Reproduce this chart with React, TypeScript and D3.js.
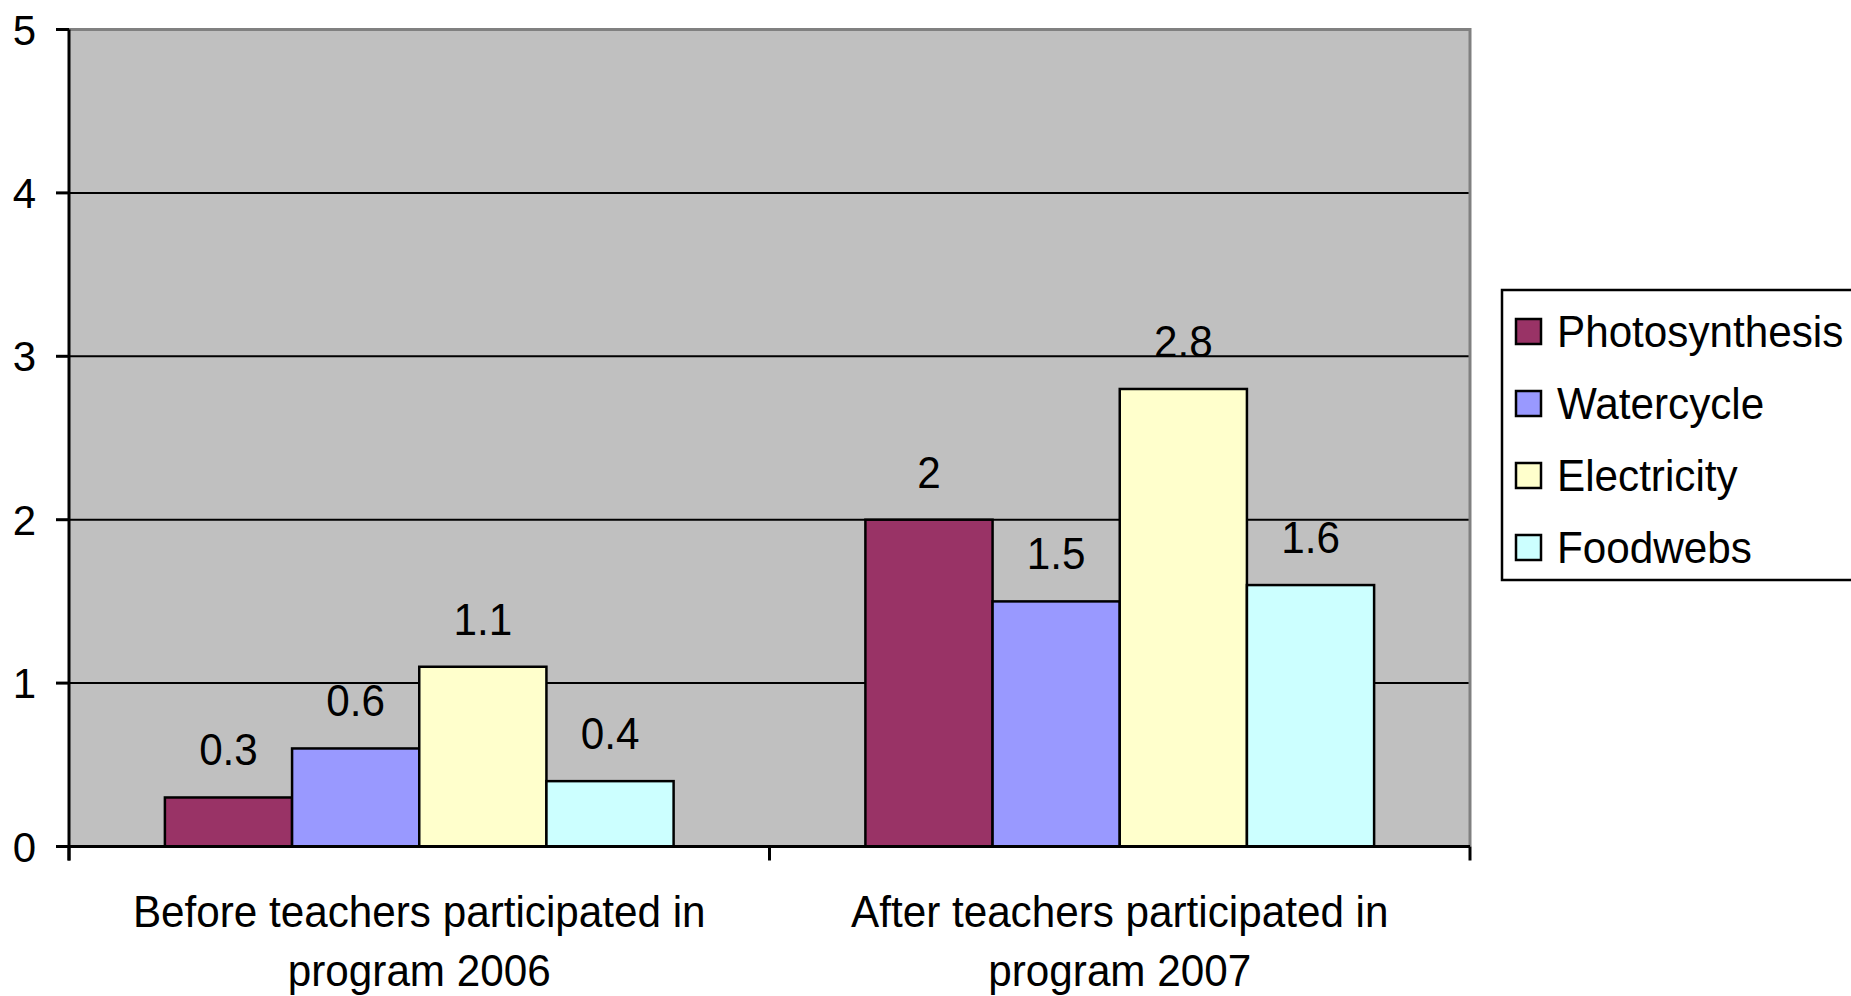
import React from "react";
import * as d3 from "d3";

const categories = [
  ["Before teachers participated in", "program 2006"],
  ["After teachers participated in", "program 2007"],
];
const seriesNames = ["Photosynthesis", "Watercycle", "Electricity", "Foodwebs"];
const seriesColors = ["#993366", "#9999FF", "#FFFFCC", "#CCFFFF"];
// values per series, one entry per category
const photosynthesis = [0.3, 2];
const watercycle = [0.6, 1.5];
const electricity = [1.1, 2.8];
const foodwebs = [0.4, 1.6];
const yTicks = [0, 1, 2, 3, 4, 5];

const seriesValues = [photosynthesis, watercycle, electricity, foodwebs];

const W = 1851;
const H = 996;
const plot = { left: 69, right: 1470, top: 29.5, bottom: 846.5 };
const FONT = "'Liberation Sans', Arial, sans-serif";
const SX = 0.96; // the original text is slightly condensed

export default function App() {
  const x0 = d3
    .scaleBand<number>()
    .domain(categories.map((_, i) => i))
    .range([plot.left, plot.right])
    .padding(0);
  const x1 = d3
    .scaleBand<number>()
    .domain(seriesNames.map((_, i) => i))
    .range([0, x0.bandwidth()])
    .paddingInner(0)
    .paddingOuter(0.754);
  const y = d3.scaleLinear().domain([0, 5]).range([plot.bottom, plot.top]);

  return (
    <svg
      width={W}
      height={H}
      style={{ position: "absolute", left: 0, top: 0, background: "#fff" }}
      fontFamily={FONT}
    >
      <rect
        x={plot.left}
        y={plot.top}
        width={plot.right - plot.left}
        height={plot.bottom - plot.top}
        fill="#C0C0C0"
      />
      {/* gridlines */}
      {yTicks
        .filter((t) => t > 0 && t < 5)
        .map((t) => (
          <line key={t} x1={plot.left} x2={plot.right} y1={y(t)} y2={y(t)} stroke="#000" strokeWidth={2} />
        ))}
      {/* gray top & right border */}
      <path
        d={`M${plot.left},${plot.top}H${plot.right}V${plot.bottom}`}
        fill="none"
        stroke="#808080"
        strokeWidth={3}
      />

      {/* bars */}
      {categories.map((_, ci) => (
        <g key={ci} transform={`translate(${x0(ci)},0)`}>
          {seriesValues.map((vals, si) => (
            <rect
              key={si}
              x={x1(si)}
              y={y(vals[ci])}
              width={x1.bandwidth()}
              height={y(0) - y(vals[ci])}
              fill={seriesColors[si]}
              stroke="#000"
              strokeWidth={2.5}
            />
          ))}
          {seriesValues.map((vals, si) => (
            <text
              key={"l" + si}
              transform={`translate(${(x1(si) ?? 0) + x1.bandwidth() / 2},${y(vals[ci]) - 32}) scale(${SX},1)`}
              textAnchor="middle"
              fontSize={44}
              fill="#000"
            >
              {vals[ci]}
            </text>
          ))}
        </g>
      ))}

      {/* y axis */}
      <line x1={plot.left} x2={plot.left} y1={plot.top} y2={plot.bottom + 14} stroke="#000" strokeWidth={3} />
      {yTicks.map((t) => (
        <g key={t}>
          <line x1={56} x2={plot.left} y1={y(t)} y2={y(t)} stroke="#000" strokeWidth={3} />
          <text x={36} y={y(t) + 15} textAnchor="end" fontSize={42} fill="#000">
            {t}
          </text>
        </g>
      ))}

      {/* x axis */}
      <line x1={plot.left} x2={plot.right} y1={plot.bottom} y2={plot.bottom} stroke="#000" strokeWidth={3} />
      {[...categories.map((_, i) => x0(i) as number), plot.right].map((xv, i) => (
        <line key={i} x1={xv} x2={xv} y1={plot.bottom} y2={plot.bottom + 14} stroke="#000" strokeWidth={3} />
      ))}
      {categories.map((lines, ci) =>
        lines.map((ln, li) => (
          <text
            key={ci + "-" + li}
            transform={`translate(${(x0(ci) ?? 0) + x0.bandwidth() / 2},${927 + li * 59}) scale(${SX},1)`}
            textAnchor="middle"
            fontSize={44}
            fill="#000"
          >
            {ln}
          </text>
        ))
      )}

      {/* legend */}
      <rect x={1502} y={290} width={360} height={290} fill="#fff" stroke="#000" strokeWidth={2.5} />
      {seriesNames.map((name, si) => {
        const cy = 331 + si * 72;
        return (
          <g key={name}>
            <rect x={1516} y={cy - 12} width={25} height={25} fill={seriesColors[si]} stroke="#000" strokeWidth={2.5} />
            <text transform={`translate(1557,${cy + 16}) scale(${SX},1)`} fontSize={44} fill="#000">
              {name}
            </text>
          </g>
        );
      })}
    </svg>
  );
}
